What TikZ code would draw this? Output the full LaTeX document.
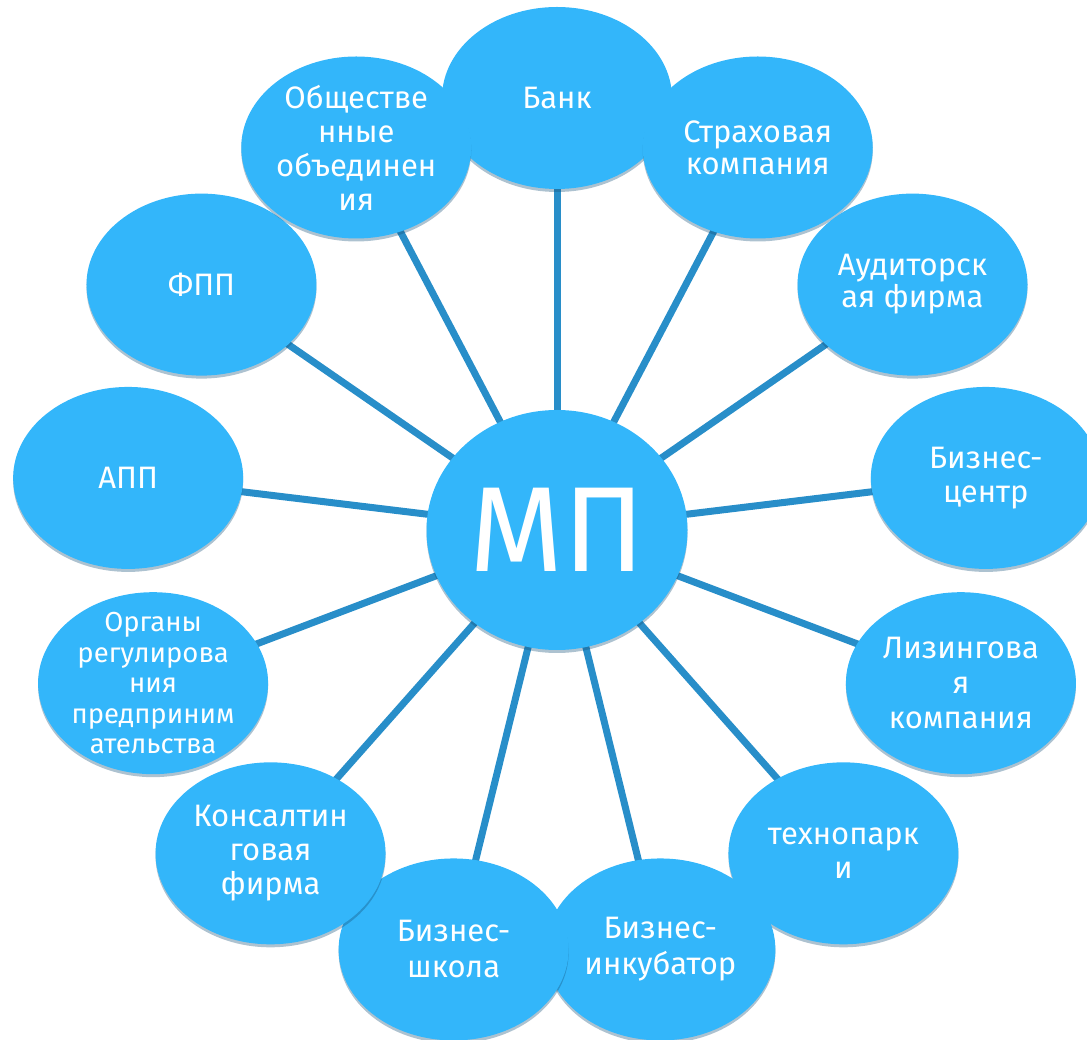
\documentclass[tikz,border=0pt]{standalone}
\usepackage{fontspec}
\setmainfont{Fira Sans}
\usetikzlibrary{shapes.geometric,shadows,backgrounds}
\definecolor{blobfill}{RGB}{51,182,250}
\definecolor{spoke}{RGB}{40,142,201}
\definecolor{shadowc}{RGB}{20,80,120}
\begin{document}
\begin{tikzpicture}[x=1pt,y=1pt,
  blob/.style={ellipse, fill=blobfill, minimum width=230pt, minimum height=182pt, inner sep=0pt,
    drop shadow={shadow xshift=0pt, shadow yshift=-3pt, opacity=0.35, fill=shadowc}},
  lbl/.style={text=white, align=center, font=\fontsize{31}{34}\selectfont, inner sep=0pt},
  lblwide/.style={lbl, font=\fontsize{31}{36}\selectfont},
  lblsmall/.style={text=white, align=center, font=\fontsize{27.5}{30.5}\selectfont, inner sep=0pt},
  spokeline/.style={draw=spoke, line width=7pt}]
\useasboundingbox (0,0) rectangle (1087,1039);
\coordinate (c) at (557,509);
\def\stepang{27.6923}
\node[blob, label={[lbl]center:Банк}] (bank) at ([shift={(90:432)}]c) {};
\node[blob, label={[lbl, font=\fontsize{31}{32}\selectfont]center:Страховая\\компания}] (insur) at ([shift={(90-\stepang:432)}]c) {};
\node[blob, label={[lbl, font=\fontsize{31}{32}\selectfont]center:Аудиторск\\ая фирма}] (audit) at ([shift={(90-2*\stepang:432)}]c) {};
\node[blob, label={[lbl]center:Бизнес-\\центр}] (bcenter) at ([shift={(90-3*\stepang:432)}]c) {};
\node[blob, label={[lbl, font=\fontsize{31}{35}\selectfont]center:Лизингова\\я\\компания}] (leasing) at ([shift={(90-4*\stepang:432)}]c) {};
\node[blob, label={[lbl]center:технопарк\\и}] (tech) at ([shift={(90-5*\stepang:432)}]c) {};
\node[blob, label={[lblwide]center:Бизнес-\\инкубатор}] (incub) at ([shift={(90-6*\stepang:432)}]c) {};
\node[blob, label={[lblwide]center:Бизнес-\\школа}] (school) at ([shift={(90-7*\stepang:432)}]c) {};
\node[blob, label={[lbl]center:Консалтин\\говая\\фирма}] (consult) at ([shift={(90-8*\stepang:432)}]c) {};
\node[blob, label={[lblsmall]center:Органы\\регулирова\\ния\\предприним\\ательства}] (organs) at ([shift={(90-9*\stepang:432)}]c) {};
\node[blob, label={[lbl]center:АПП}] (app) at ([shift={(90-10*\stepang:432)}]c) {};
\node[blob, label={[lbl]center:ФПП}] (fpp) at ([shift={(90-11*\stepang:432)}]c) {};
\node[blob, label={[lbl]center:Обществе\\нные\\объединен\\ия}] (public) at ([shift={(90-12*\stepang:432)}]c) {};
\node[blob, minimum width=261pt, minimum height=240pt,
  label={[text=white, inner sep=0pt, font=\fontsize{121}{121}\selectfont]center:МП}] (mp) at (c) {};
\begin{scope}[on background layer]
\foreach \n in {bank,insur,audit,bcenter,leasing,tech,incub,school,consult,organs,app,fpp,public}
  \draw[spokeline] (mp.center) -- (\n.center);
\end{scope}
\end{tikzpicture}
\end{document}
